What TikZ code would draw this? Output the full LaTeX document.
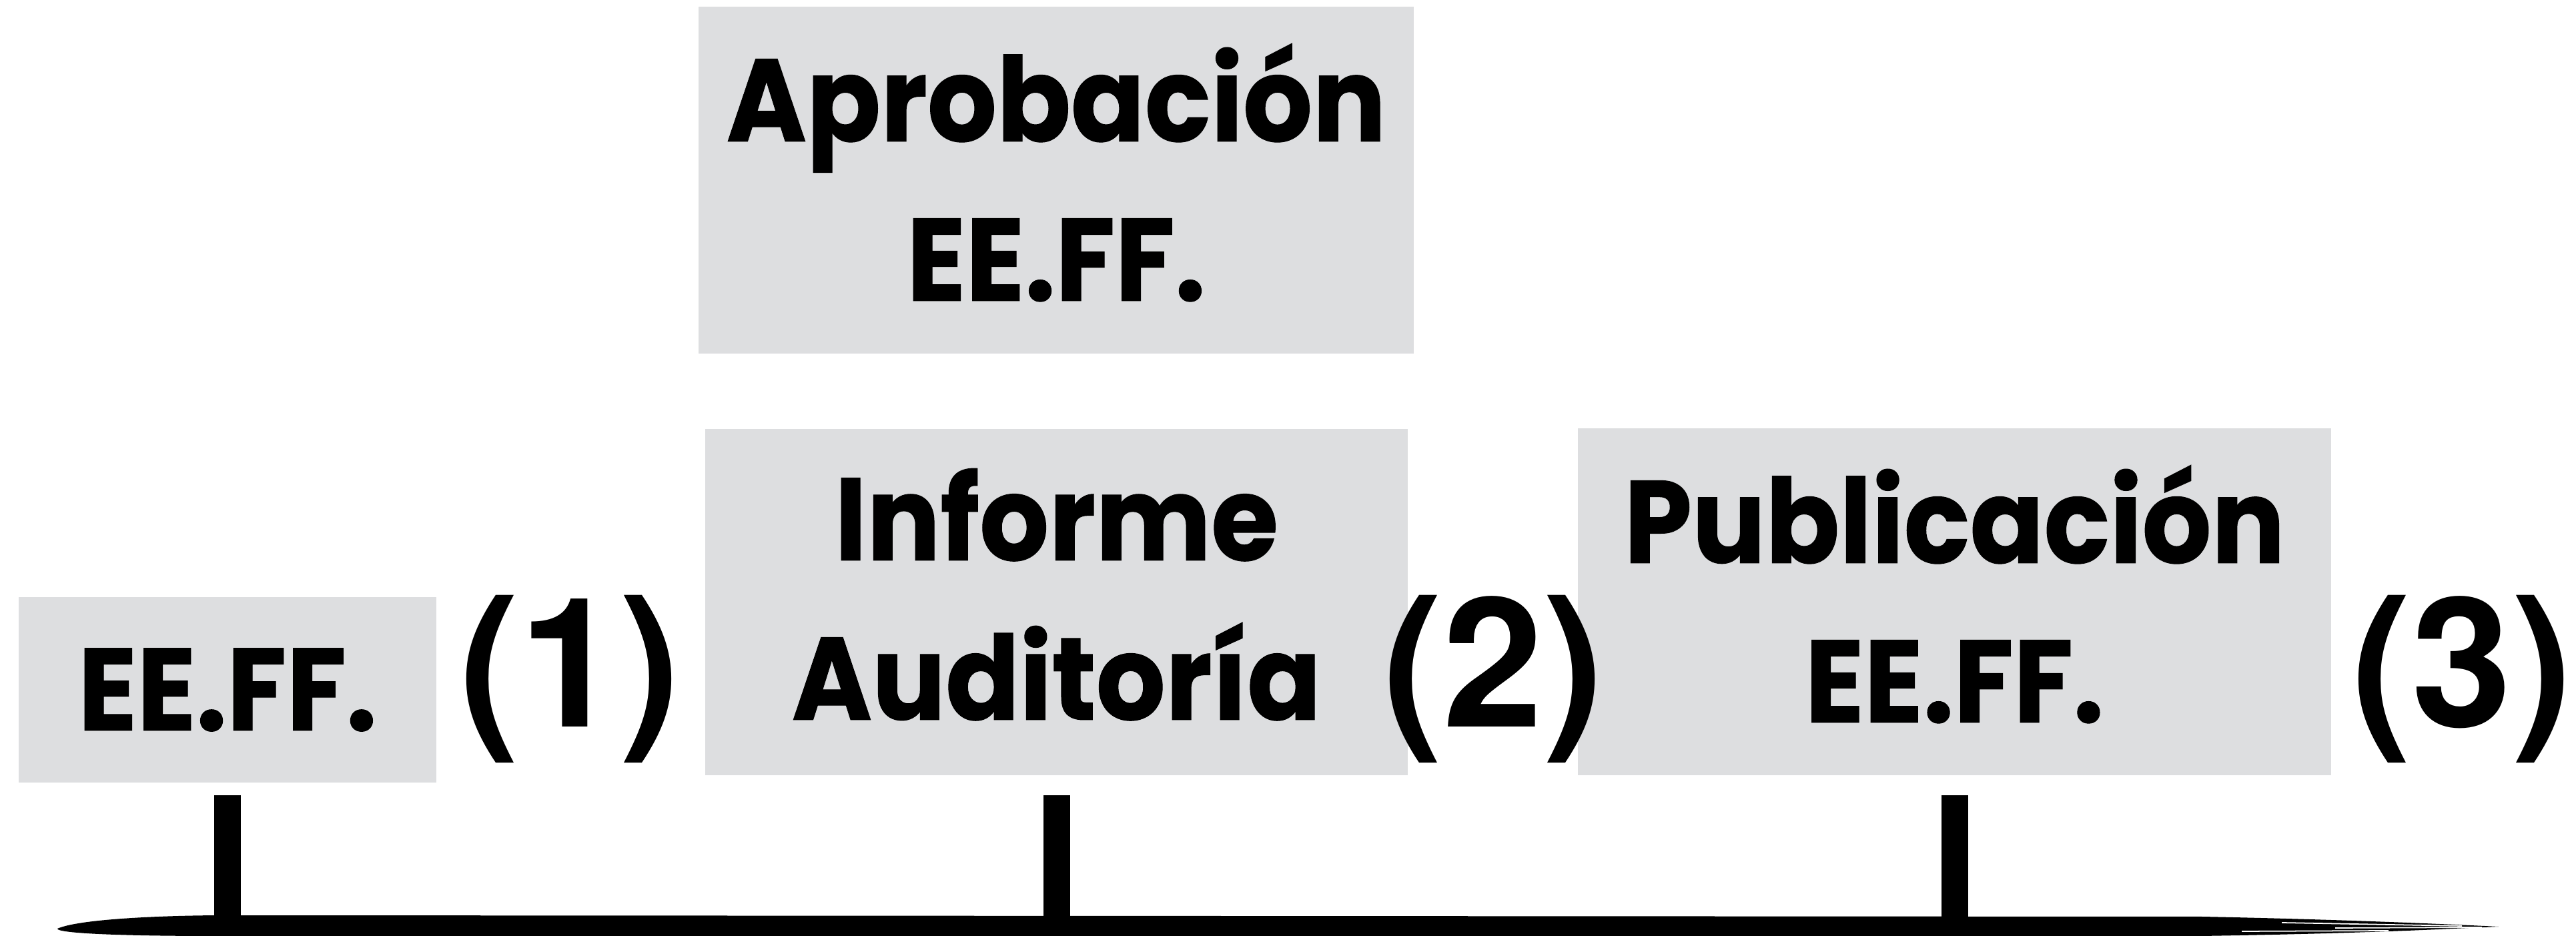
\documentclass[tikz,border=0pt]{standalone}
\usepackage{fontspec}
\newfontfamily\boxfont{Poppins}[FakeStretch=0.93, BoldFeatures={FakeBold=0.6}]
\newfontfamily\numfont{TeX Gyre Heros}
\usetikzlibrary{positioning}
\definecolor{boxgray}{RGB}{221,222,224}

\begin{document}
\begin{tikzpicture}[
  stage/.style={fill=boxgray, inner sep=0pt, align=center,
    font=\boxfont\bfseries\fontsize{50}{68}\selectfont},
  twoline/.style={stage, text depth=2.4mm},
  num/.style={font=\numfont\bfseries\fontsize{77}{80}\selectfont, inner sep=0pt, anchor=base},
  post/.style={line width=4mm},
  brush/.style={white, line width=0.5pt}
]
\useasboundingbox (0,0) rectangle (38.61,14.03);

% stages
\node[stage, minimum width=6.26cm, minimum height=2.78cm] (ef) at (3.41,3.69) {EE.FF.};
\node[twoline, minimum width=10.72cm, minimum height=5.2cm] (apr) at (15.83,11.33) {Aprobación\\EE.FF.};
\node[twoline, minimum width=10.53cm, minimum height=5.19cm] (inf) at (15.835,5.005) {Informe\\Auditoría};
\node[twoline, minimum width=11.29cm, minimum height=5.2cm] (pub) at (29.295,5.01) {Publicación\\EE.FF.};

% step numbers
\node[num] (n1) at (8.54,3.13) {(1)};
\node[num] (n2) at (22.38,3.13) {(2)};
\node[num] (n3) at (36.90,3.13) {(3)};

% timeline
\coordinate (axis) at (0,0.18);
\coordinate (top) at (0,2.11);
\fill (0.86,0.11) .. controls (1.2,0.26) and (2.5,0.31) .. (3.4,0.31)
  -- (33.0,0.29) .. controls (34.5,0.26) and (36.0,0.21) .. (37.45,0.14)
  .. controls (36.5,0.10) and (35.5,0.04) .. (33.0,0.0)
  -- (3.2,0.0) .. controls (1.8,0.0) and (0.86,0.04) .. cycle;
\draw[brush] (34.2,0.20) -- (36.9,0.15);
\draw[brush] (35.0,0.12) -- (37.2,0.13);
\draw[brush] (33.6,0.07) -- (35.8,0.08);
\foreach \b in {ef,inf,pub}
  \draw[post] (\b.south |- top) -- (\b.south |- axis);
\end{tikzpicture}
\end{document}
